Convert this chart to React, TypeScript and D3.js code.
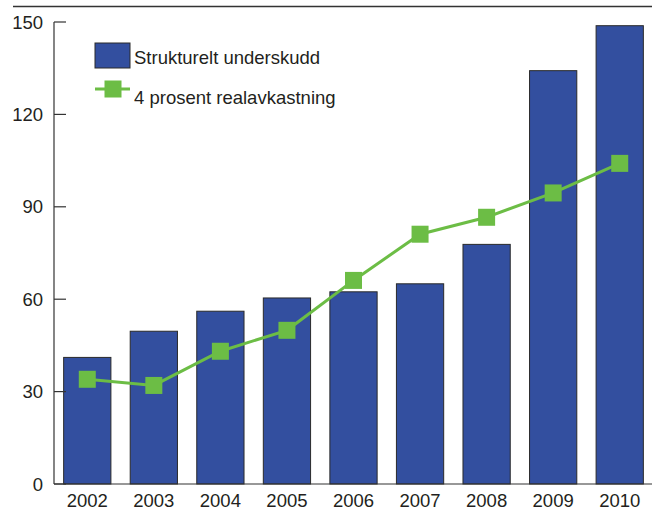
import React from "react";
import * as d3 from "d3";

const years = ["2002", "2003", "2004", "2005", "2006", "2007", "2008", "2009", "2010"];
const underskudd = [41.1, 49.6, 56.1, 60.4, 62.4, 65.0, 77.8, 134.2, 148.8];
const realavkastning = [34.0, 32.0, 43.1, 49.9, 66.1, 81.1, 86.6, 94.5, 104.1];
const yTicks = [0, 30, 60, 90, 120, 150];
const seriesNames = ["Strukturelt underskudd", "4 prosent realavkastning"];

const W = 652;
const H = 511;
const BAR = "#334f9f";
const GREEN = "#6cbd45";
const TEXT = "#231f20";
const FONT = "'Liberation Sans', Arial, Helvetica, sans-serif";
const FS = 18.5;

export default function App() {
  const x = d3.scaleBand<string>().domain(years).range([54, 653]).paddingInner(0.29).paddingOuter(0.145);
  const y = d3.scaleLinear().domain([0, 150]).range([484, 22]);
  const line = d3
    .line<number>()
    .x((_, i) => (x(years[i]) as number) + x.bandwidth() / 2)
    .y((d) => y(d));
  const ms = 17;

  return (
    <svg
      width={W}
      height={H}
      style={{ position: "absolute", left: 0, top: 0, display: "block", background: "#fff" }}
      fontFamily={FONT}
    >
      <line x1={13} x2={652} y1={6.5} y2={6.5} stroke="#333" strokeWidth={1.5} />
      {/* bars */}
      {underskudd.map((v, i) => (
        <rect
          key={years[i]}
          x={x(years[i])}
          y={y(v)}
          width={x.bandwidth()}
          height={y(0) - y(v)}
          fill={BAR}
          stroke="#2a2a2a"
          strokeWidth={1}
        />
      ))}
      {/* axes */}
      <line x1={54} x2={54} y1={y(150)} y2={y(0)} stroke="#333" strokeWidth={1.2} />
      <line x1={54} x2={652} y1={y(0)} y2={y(0)} stroke="#333" strokeWidth={1.2} />
      {yTicks.map((t) => (
        <g key={t}>
          <line x1={54} x2={66} y1={y(t)} y2={y(t)} stroke="#333" strokeWidth={1.2} />
          <text x={43} y={y(t)} dy="0.36em" textAnchor="end" fontSize={FS} fill={TEXT}>
            {t}
          </text>
        </g>
      ))}
      {years.map((yr) => (
        <text
          key={yr}
          x={(x(yr) as number) + x.bandwidth() / 2}
          y={507}
          textAnchor="middle"
          fontSize={FS}
          fill={TEXT}
        >
          {yr}
        </text>
      ))}
      {/* line series */}
      <path d={line(realavkastning) || ""} fill="none" stroke={GREEN} strokeWidth={3} />
      {realavkastning.map((v, i) => (
        <rect
          key={"m" + i}
          x={(x(years[i]) as number) + x.bandwidth() / 2 - ms / 2}
          y={y(v) - ms / 2}
          width={ms}
          height={ms}
          fill={GREEN}
        />
      ))}
      {/* legend */}
      <rect x={95} y={43} width={35} height={25} fill={BAR} stroke="#2a2a2a" strokeWidth={1} />
      <text x={134} y={64} fontSize={FS} fill={TEXT}>
        {seriesNames[0]}
      </text>
      <line x1={95} x2={130} y1={89} y2={89} stroke={GREEN} strokeWidth={3} />
      <rect x={104.5} y={80.5} width={17} height={17} fill={GREEN} />
      <text x={134} y={104} fontSize={FS} fill={TEXT}>
        {seriesNames[1]}
      </text>
    </svg>
  );
}
